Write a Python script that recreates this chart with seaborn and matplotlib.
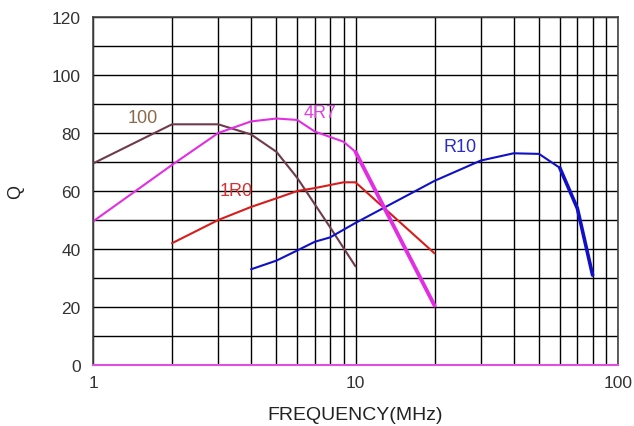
import matplotlib

matplotlib.use("Agg")

import matplotlib.pyplot as plt
import matplotlib.ticker as mticker
import seaborn as sns

# Q vs frequency curves
freq_100 = [1, 2, 3, 4, 5, 6, 8, 10]
q_100 = [69.5, 83, 83, 79.5, 73.5, 64.5, 47.5, 34]

freq_4r7 = [1, 2, 3, 4, 5, 6, 7, 9, 10, 20]
q_4r7 = [49.5, 69, 80, 84, 85, 84.5, 80.5, 77, 73.5, 20.5]

freq_1r0 = [2, 3, 4, 5, 6, 7, 9, 10, 20]
q_1r0 = [42, 50, 54.5, 57.5, 60, 61, 63, 63, 38.5]

freq_r10 = [4, 5, 6, 7, 8, 10, 20, 30, 40, 50, 60, 70, 80]
q_r10 = [33, 36, 39.5, 42.5, 44, 49, 63.5, 70.5, 73, 72.8, 68, 54, 31]

labels = ["100", "4R7", "1R0", "R10"]
label_pos = [(1.55, 85.5), (7.3, 87.2), (3.5, 60.3), (25, 75.2)]
colors = ["#6e3a4c", "#e22ee2", "#d81c1c", "#1010c8"]
label_colors = ["#8a6a4a", "#e040e0", "#d83030", "#2a2ad0"]


def main() -> None:
    sns.set_style("white")
    plt.rcParams["font.family"] = ["Liberation Sans", "DejaVu Sans"]

    fig = plt.figure(figsize=(6.34, 4.27), dpi=100)
    ax = fig.add_axes([0.1467, 0.1429, 0.8281, 0.8149])

    series = [
        (freq_100, q_100),
        (freq_4r7, q_4r7),
        (freq_1r0, q_1r0),
        (freq_r10, q_r10),
    ]
    for (x, y), c in zip(series, colors):
        sns.lineplot(x=x, y=y, ax=ax, color=c, linewidth=1.5, sort=False, estimator=None)

    # steeper ends are drawn heavier in the original
    sns.lineplot(x=freq_4r7[-2:], y=q_4r7[-2:], ax=ax, color=colors[1], linewidth=2.8,
                 sort=False, estimator=None)
    sns.lineplot(x=freq_r10[-3:], y=q_r10[-3:], ax=ax, color=colors[3], linewidth=2.6,
                 sort=False, estimator=None)

    for text, (tx, ty), c in zip(labels, label_pos, label_colors):
        ax.text(tx, ty, text, color=c, fontsize=13, ha="center", va="center")

    ax.set_xscale("log")
    ax.set_xlim(1, 100)
    ax.set_ylim(0, 120)
    ax.xaxis.set_major_locator(mticker.FixedLocator([1, 10, 100]))
    ax.xaxis.set_major_formatter(mticker.FixedFormatter(["1", "10", "100"]))
    ax.xaxis.set_minor_locator(mticker.LogLocator(base=10, subs=range(2, 10)))
    ax.xaxis.set_minor_formatter(mticker.NullFormatter())
    ax.yaxis.set_major_locator(mticker.MultipleLocator(20))
    ax.yaxis.set_minor_locator(mticker.MultipleLocator(10))

    ax.grid(True, which="both", color="black", linewidth=1.0)
    ax.set_axisbelow(True)
    ax.tick_params(axis="both", which="both", length=0, labelsize=12.5, colors="#333333")
    ax.tick_params(axis="x", pad=7)
    ax.tick_params(axis="y", pad=9)

    for side in ["top", "right", "left"]:
        ax.spines[side].set_color("#444444")
        ax.spines[side].set_linewidth(1.2)
    ax.spines["bottom"].set_color("#e050e0")
    ax.spines["bottom"].set_linewidth(1.5)

    ax.set_xlabel("FREQUENCY(MHz)", fontsize=14, color="#222222", labelpad=12)
    ax.set_ylabel("Q", fontsize=13, color="#222222", labelpad=20)

    fig.savefig("out.png", dpi=100)
    plt.close(fig)


if __name__ == "__main__":
    main()
